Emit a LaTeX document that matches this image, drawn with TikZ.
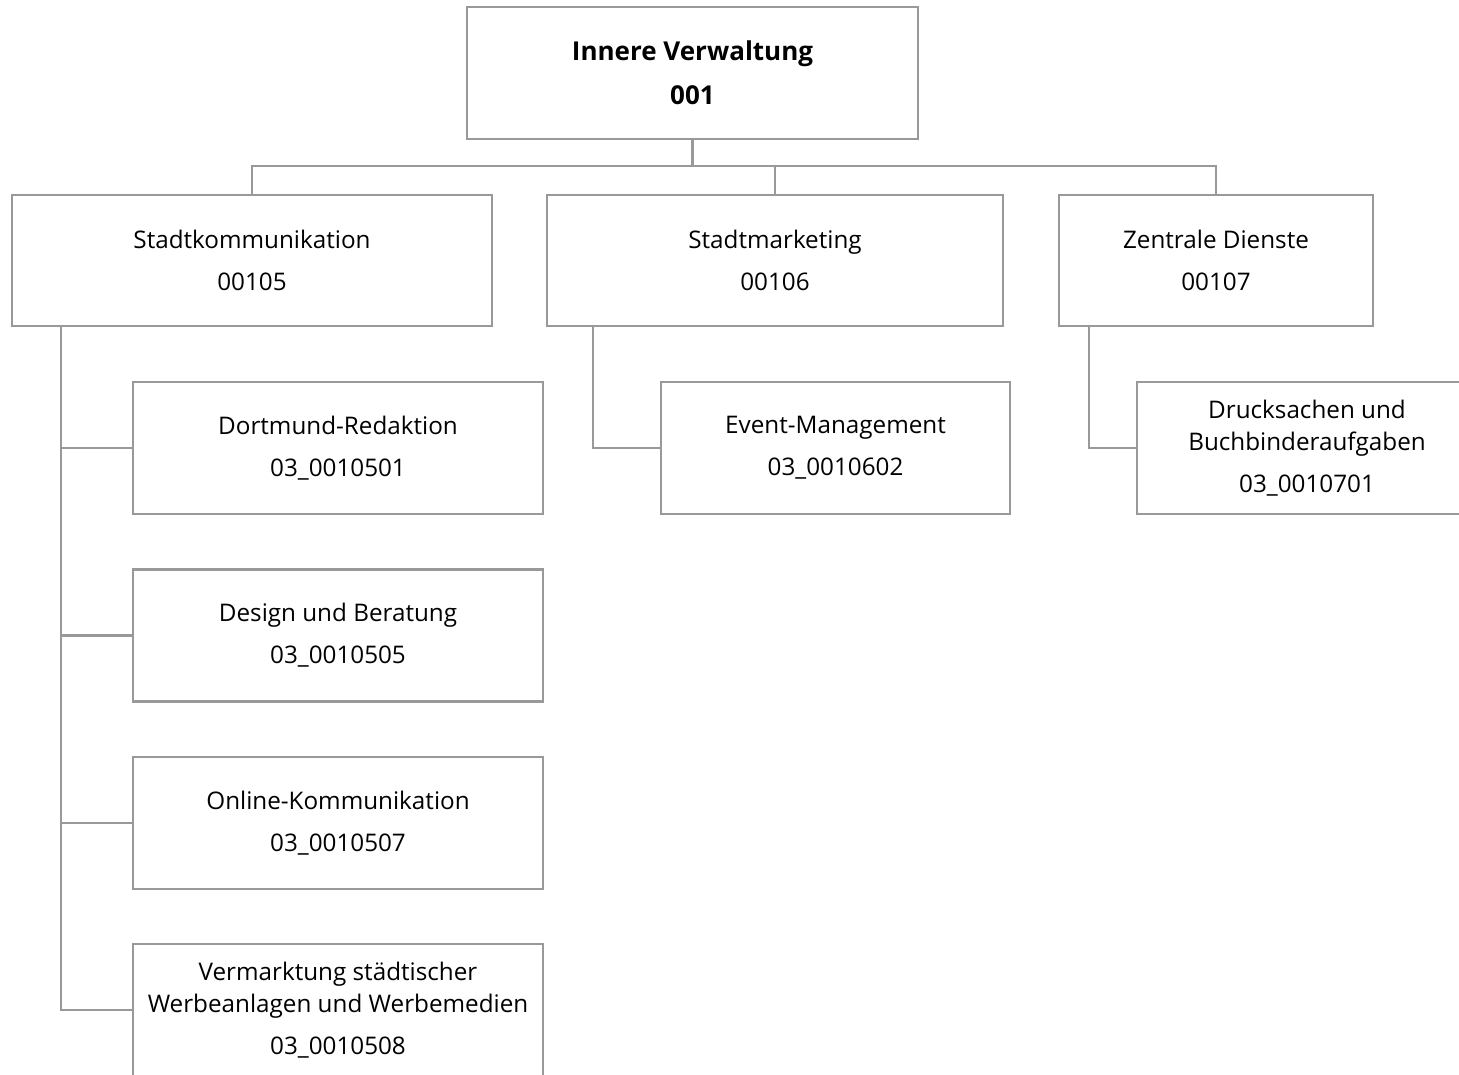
\documentclass[tikz,border=0pt]{standalone}
\usepackage{fontspec}
\setmainfont{Open Sans}
\begin{document}
\begin{tikzpicture}[x=0.02cm,y=-0.02cm,
  box/.style={draw=black!40, line width=1.4pt, inner sep=0pt, align=center,
    font=\fontsize{13.8}{18}\selectfont, minimum height=2.64cm},
  link/.style={draw=black!40, line width=1.4pt}]

\useasboundingbox (0,0) rectangle (1459,1074);
\clip (0,0) rectangle (1459,1074);

%draw top box
\node[box, minimum width=9.02cm, font=\fontsize{14.8}{18}\selectfont\bfseries] (top) at (692.5,73) {Innere Verwaltung\\[7pt]001};

%draw second row
\node[box, minimum width=9.6cm, minimum height=2.62cm] (kommu) at (252,260.5) {Stadtkommunikation\\[6pt]00105};
\node[box, minimum width=9.12cm, minimum height=2.62cm] (marketing) at (775,260.5) {Stadtmarketing\\[6pt]00106};
\node[box, minimum width=6.28cm, minimum height=2.62cm] (zentral) at (1216,260.5) {Zentrale Dienste\\[6pt]00107};

%draw third row
\node[box, minimum width=8.2cm] (redak) at (338,448) {Dortmund-Redaktion\\[6pt]03\_0010501};
\node[box, minimum width=8.2cm] (design) at (338,635.5) {Design und Beratung\\[6pt]03\_0010505};
\node[box, minimum width=8.2cm] (online) at (338,823) {Online-Kommunikation\\[6pt]03\_0010507};
\node[box, minimum width=8.2cm] (verm) at (338,1010) {Vermarktung städtischer\\Werbeanlagen und Werbemedien\\[6pt]03\_0010508};
\node[box, minimum width=6.98cm] (event) at (835.5,448) {Event-Management\\[6pt]03\_0010602};
\node[box, minimum width=6.8cm] (druck) at (1307,448) {Drucksachen und\\Buchbinderaufgaben\\[6pt]03\_0010701};

%draw bus below top box
\coordinate (bus) at (0,166);
\draw[link] (top.south) -- (top.south |- bus);
\draw[link] (kommu.north) |- (bus -| zentral.north) -- (zentral.north);
\draw[link] (marketing.north) -- (marketing.north |- bus);

%draw left trunk
\coordinate (ktrunk) at ([xshift=1cm]kommu.south west);
\draw[link] (ktrunk) |- (verm.west);
\foreach \n in {redak,design,online}
\draw[link] (\n.west) -- (\n.west -| ktrunk);

%draw other trunks
\draw[link] ([xshift=0.94cm]marketing.south west) |- (event.west);
\draw[link] ([xshift=0.62cm]zentral.south west) |- (druck.west);

\end{tikzpicture}
\end{document}
